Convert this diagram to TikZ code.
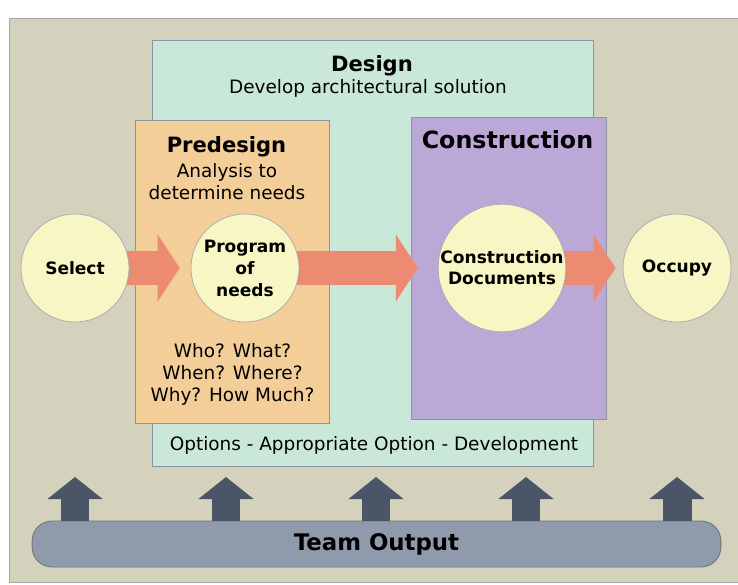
\documentclass[tikz,border=0pt]{standalone}
\usepackage{fontspec}
\setmainfont{DejaVu Sans}
\usetikzlibrary{arrows.meta, positioning}
\definecolor{bgtan}{HTML}{D4D1BD}
\definecolor{designbg}{HTML}{C9E8DA}
\definecolor{prebg}{HTML}{F3CE98}
\definecolor{constbg}{HTML}{BCA8D7}
\definecolor{stepfill}{HTML}{F8F6C4}
\definecolor{flowcol}{HTML}{EC8B72}
\definecolor{barcol}{HTML}{8F9BAD}
\definecolor{liftcol}{HTML}{4A5667}
\definecolor{edgecol}{HTML}{8E93A3}
\pgfdeclarelayer{back}
\pgfdeclarelayer{flows}
\pgfsetlayers{back,flows,main}

\begin{document}
\begin{tikzpicture}[x=0.02cm, y=-0.02cm,
    phase/.style={draw=edgecol, line width=0.3pt, fill=#1, inner sep=0pt},
    stepnode/.style={circle, draw=edgecol!80, line width=0.4pt, fill=stepfill, minimum size=2.16cm, inner sep=0pt, align=center, font=\bfseries\fontsize{9.7}{12.5}\selectfont},
    heading/.style={font=\bfseries\fontsize{#1}{14}\selectfont, inner sep=0pt},
    note/.style={align=center, inner sep=0pt, font=\fontsize{10.5}{12.5}\selectfont},
    flow/.style={line width=0.7cm, draw=flowcol, -{Triangle[length=0.44cm, width=1.32cm]}},
    lift/.style={line width=0.58cm, draw=liftcol, -{Triangle[length=0.44cm, width=1.08cm]}}
]
\useasboundingbox (0,0) rectangle (738,585);

% panels
\begin{pgfonlayer}{back}
\node[phase=bgtan, draw=gray!70, minimum width=14.64cm, minimum height=11.28cm] (frame) at (375,300) {};
\node[phase=designbg, minimum width=8.82cm, minimum height=8.52cm] (design) at (372.5,253) {};
\node[phase=prebg, minimum width=3.88cm, minimum height=6.06cm] (predesign) at (232,271.5) {};
\node[phase=constbg, minimum width=3.9cm, minimum height=6.04cm] (construction) at (508.5,268) {};
\end{pgfonlayer}

\node[heading=12, anchor=base] (designtitle) at (372,71) {Design};
\node[note, anchor=base] (designsub) at (368,93) {Develop architectural solution};
\node[heading=12, anchor=base] (pretitle) at (226.5,152) {Predesign};
\node[note] (presub) at (227,182) {Analysis to\\determine needs};
\node[heading=13.5, anchor=base] (consttitle) at (507.5,148) {Construction};
\node[note] (questions) at (232.5,374) {Who? What?\\When? Where?\\Why? How Much?};
\node[note] (options) at (374,445) {Options - Appropriate Option - Development};

% steps
\node[stepnode] (select) at (75,268) {Select};
\node[stepnode] (prog) at (245,268) {Program\\of\\needs};
\node[stepnode, minimum size=2.12cm, font=\bfseries\fontsize{9.7}{12}\selectfont] (cdocs) at (502,268) {Construction\\Documents};
\node[stepnode] (occupy) at (677,268) {Occupy};

\begin{pgfonlayer}{flows}
\draw[flow, shorten <=-0.15cm, shorten >=0.22cm] (select) -- (prog);
\draw[flow, shorten <=-0.15cm, shorten >=0.4cm] (prog) -- (cdocs);
\draw[flow, shorten <=-0.15cm, shorten >=0.14cm] (cdocs) -- (occupy);
\end{pgfonlayer}

% team output
\node[draw=black!55, line width=0.5pt, fill=barcol, rounded corners=0.4cm, minimum width=13.78cm, minimum height=0.92cm, inner sep=0pt, font=\bfseries\fontsize{13}{15}\selectfont] (teamout) at (376.5,544) {Team Output};
\foreach \i/\x in {1/75, 2/226, 3/376, 4/526, 5/677}{
  \coordinate (tip\i) at (\x,477);
  \draw[lift] (teamout.north -| tip\i) -- (tip\i);
}
\end{tikzpicture}
\end{document}
